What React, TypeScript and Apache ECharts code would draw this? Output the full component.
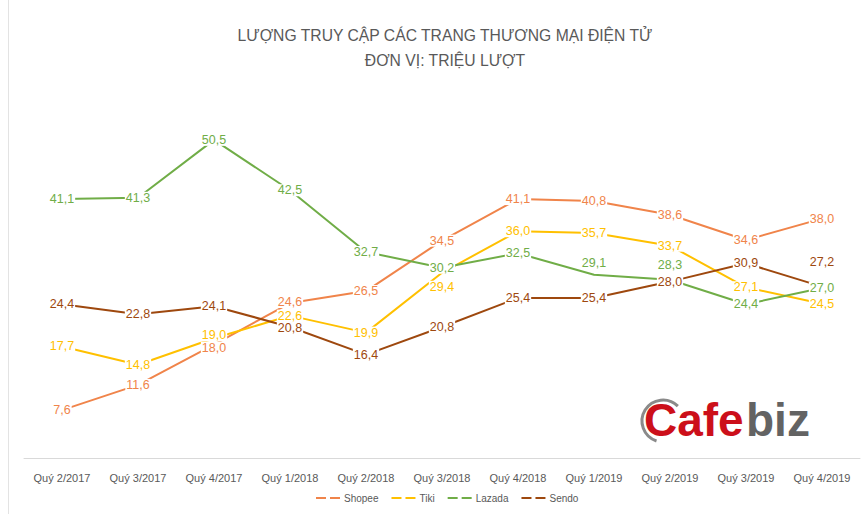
import React, { useEffect, useRef } from "react";
import * as echarts from "echarts";

const categories = [
  "Quý 2/2017", "Quý 3/2017", "Quý 4/2017", "Quý 1/2018", "Quý 2/2018", "Quý 3/2018",
  "Quý 4/2018", "Quý 1/2019", "Quý 2/2019", "Quý 3/2019", "Quý 4/2019",
];
const shopee = [7.6, 11.6, 18.0, 24.6, 26.5, 34.5, 41.1, 40.8, 38.6, 34.6, 38.0];
const tiki = [17.7, 14.8, 19.0, 22.6, 19.9, 29.4, 36.0, 35.7, 33.7, 27.1, 24.5];
const lazada = [41.1, 41.3, 50.5, 42.5, 32.7, 30.2, 32.5, 29.1, 28.3, 24.4, 27.0];
const sendo = [24.4, 22.8, 24.1, 20.8, 16.4, 20.8, 25.4, 25.4, 28.0, 30.9, 27.2];
const seriesNames = ["Shopee", "Tiki", "Lazada", "Sendo"];
const titleText = "LƯỢNG TRUY CẬP CÁC TRANG THƯƠNG MẠI ĐIỆN TỬ\nĐƠN VỊ: TRIỆU LƯỢT";

const colors = ["#F0844A", "#FFC000", "#70AD47", "#9E480E"];
// label vertical offsets for a few points (layout only)
const labelOffsets: Record<string, Record<number, number>> = {
  Shopee: { 2: 3, 3: -1 },
  Tiki: { 2: -3, 5: 14 },
  Lazada: { 7: -12, 8: -15 },
  Sendo: { 3: 1, 10: -25 },
};

const fmt = (v: number) => v.toFixed(1).replace(".", ",");

export default function App() {
  const ref = useRef<HTMLDivElement>(null);
  useEffect(() => {
    if (!ref.current) return;
    const chart = echarts.init(ref.current, undefined, { renderer: "svg" });
    const allData = [shopee, tiki, lazada, sendo];
    const font = "'Liberation Sans', Arial, sans-serif";
    const series = seriesNames.map((name, si) => ({
      name,
      type: "line",
      data: allData[si].map((v, i) => {
        const off = labelOffsets[name]?.[i];
        return off !== undefined ? { value: v, label: { offset: [0, off] } } : v;
      }),
      symbol: "circle",
      symbolSize: 1,
      lineStyle: { color: colors[si], width: 2 },
      itemStyle: { color: colors[si] },
      label: {
        show: true,
        position: "inside",
        color: colors[si],
        fontSize: 12.5,
        lineHeight: 12,
        fontFamily: font,
        backgroundColor: "#ffffff",
        padding: [0, 1],
        formatter: (p: any) => fmt(p.value),
      },
      emphasis: { disabled: true },
    }));
    chart.setOption({
      animation: false,
      backgroundColor: "#ffffff",
      color: colors,
      title: {
        text: titleText,
        left: 440,
        top: 18,
        textAlign: "center",
        textStyle: {
          color: "#595959",
          fontSize: 15.7,
          fontWeight: "normal",
          fontFamily: font,
          lineHeight: 25,
        },
      },
      legend: {
        bottom: 6,
        left: 311,
        itemWidth: 26,
        itemHeight: 2,
        itemGap: 13,
        icon: "path://M0,0h10v2h-10z M14,0h10v2h-10z",
        textStyle: { color: "#595959", fontSize: 10, fontFamily: font, padding: [0, 0, 0, -2] },
        data: seriesNames,
      },
      grid: { left: 24, right: 4, top: 80, bottom: 56 },
      xAxis: {
        type: "category",
        data: categories,
        boundaryGap: true,
        axisLine: { lineStyle: { color: "#d9d9d9", width: 1 } },
        axisTick: { show: false },
        axisLabel: {
          color: "#595959",
          fontSize: 11,
          fontFamily: font,
          margin: 14,
          interval: 0,
        },
      },
      yAxis: {
        type: "value",
        min: 0,
        max: 60,
        show: false,
        splitLine: { show: false },
      },
      graphic: [
        {
          type: "line",
          shape: { x1: 8.5, y1: 0, x2: 8.5, y2: 514 },
          style: { stroke: "#e3e3e3", lineWidth: 1 },
        },
        {
          type: "arc",
          shape: { cx: 663, cy: 421, r: 21, startAngle: Math.PI * 0.6, endAngle: Math.PI * 1.75 },
          style: { stroke: "#8a8a8a", lineWidth: 3, fill: "none" },
        },
        {
          type: "text",
          x: 644,
          y: 420,
          style: {
            text: "Cafe",
            fill: "#cc0f1a",
            font: "bold 46px 'Liberation Sans', Arial, sans-serif",
            verticalAlign: "middle",
          },
        },
        {
          type: "text",
          x: 746,
          y: 420,
          style: {
            text: "biz",
            fill: "#636363",
            font: "bold 46px 'Liberation Sans', Arial, sans-serif",
            verticalAlign: "middle",
          },
        },
      ],
      series,
    });
    return () => chart.dispose();
  }, []);
  return (
    <div
      ref={ref}
      style={{ position: "absolute", left: 0, top: 0, width: 864, height: 514 }}
    />
  );
}
